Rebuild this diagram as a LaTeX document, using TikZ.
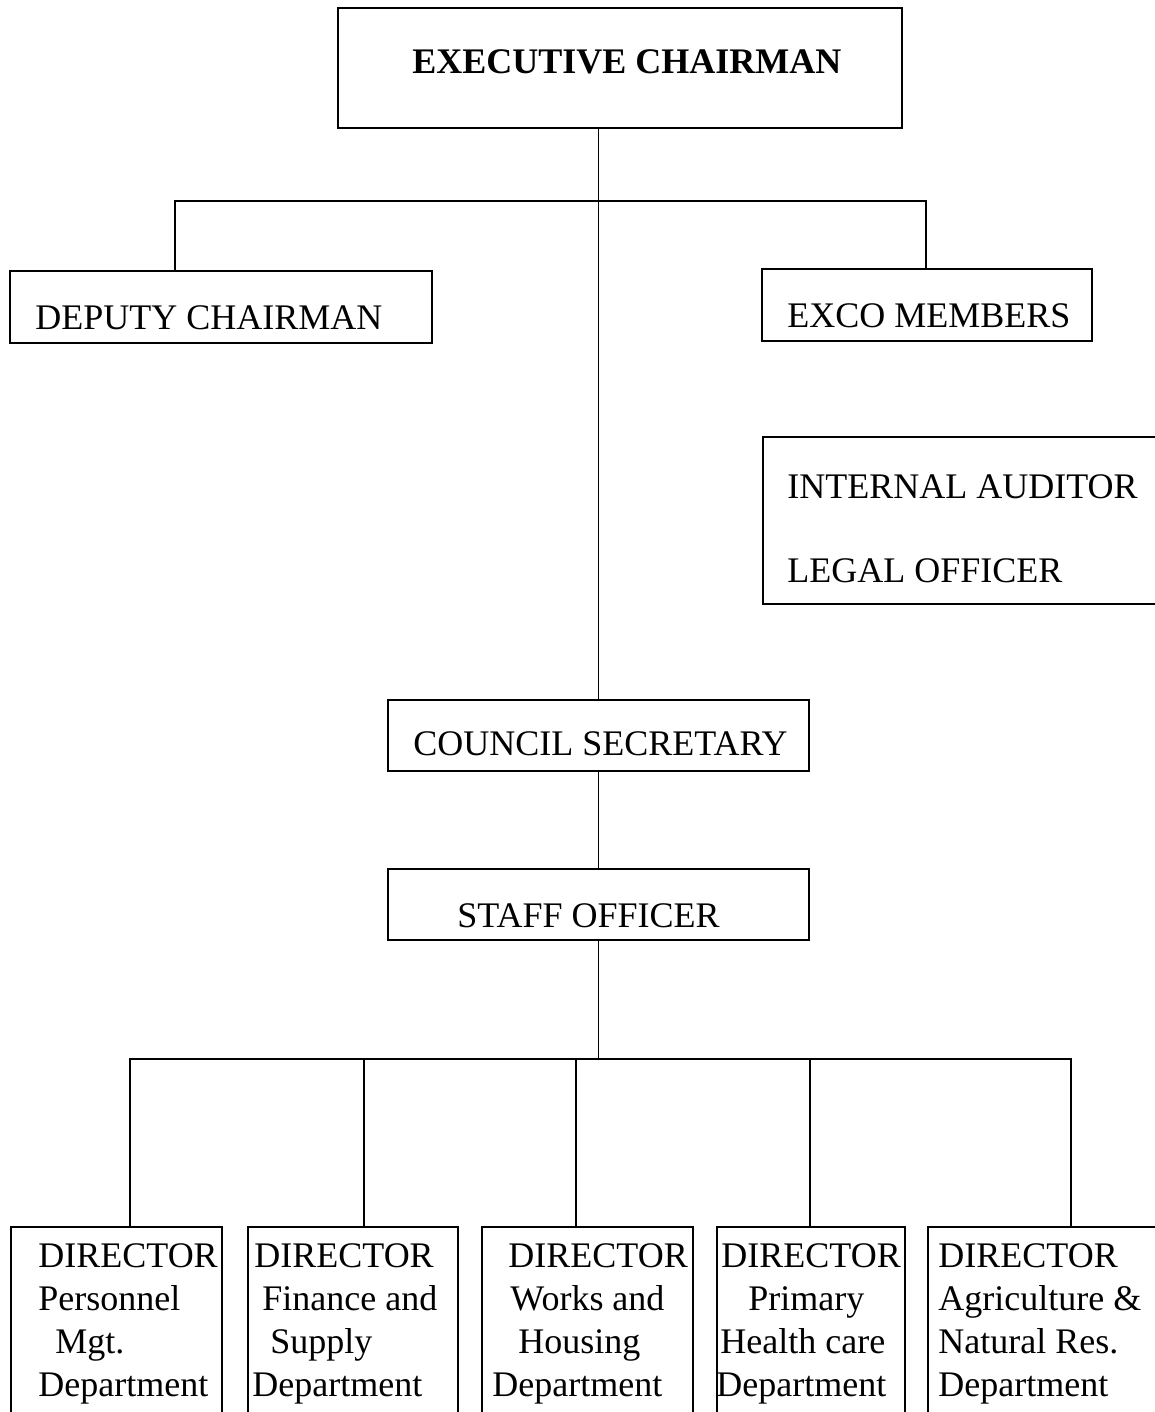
\documentclass[tikz,border=0pt]{standalone}
\usepackage{fontspec}
\setmainfont{Liberation Serif}
\usetikzlibrary{fit}
\begin{document}
\begin{tikzpicture}[x=0.5pt,y=-0.5pt,
  boxx/.style={draw, line width=0.7pt, inner sep=0pt},
  txt/.style={anchor=base west, inner sep=0pt, font=\fontsize{18pt}{21.5pt}\selectfont},
  conn/.style={line width=0.7pt}]
\useasboundingbox (0,0) rectangle (1155,1412);
\clip (0,0) rectangle (1155,1412);
% boxes
\node[boxx, fit={(338,8) (902,128)}] (exec) {};
\node[boxx, fit={(10,271) (432,343)}] (deputy) {};
\node[boxx, fit={(762,269) (1092,341)}] (exco) {};
\node[boxx, fit={(763,437) (1175,604)}] (audit) {};
\node[boxx, fit={(388,700) (809,771)}] (council) {};
\node[boxx, fit={(388,869) (809,940)}] (staff) {};
\node[boxx, fit={(11,1227) (222,1440)}] (d1) {};
\node[boxx, fit={(248,1227) (458,1440)}] (d2) {};
\node[boxx, fit={(482,1227) (693,1440)}] (d3) {};
\node[boxx, fit={(717,1227) (905,1440)}] (d4) {};
\node[boxx, fit={(928,1227) (1175,1440)}] (d5) {};
% texts
\node[txt] (texec) at (412,74) {\bfseries EXECUTIVE CHAIRMAN};
\node[txt] (tdep) at (35,329) {DEPUTY CHAIRMAN};
\node[txt] (texco) at (787,327) {EXCO MEMBERS};
\node[txt] (taud) at (787,498) {INTERNAL AUDITOR};
\node[txt] (tleg) at (787,582) {LEGAL OFFICER};
\node[txt] (tcou) at (413,755) {COUNCIL SECRETARY};
\node[txt] (tsta) at (457,927) {STAFF OFFICER};
% director texts
\node[txt] (a1) at (38,1267) {DIRECTOR};
\node[txt] (a2) at (38,1310) {Personnel};
\node[txt] (a3) at (55,1353) {Mgt.};
\node[txt] (a4) at (38,1396) {Department};
\node[txt] (b1) at (254,1267) {DIRECTOR};
\node[txt] (b2) at (262,1310) {Finance and};
\node[txt] (b3) at (270,1353) {Supply};
\node[txt] (b4) at (252,1396) {Department};
\node[txt] (c1) at (508,1267) {DIRECTOR};
\node[txt] (c2) at (510,1310) {Works and};
\node[txt] (c3) at (518,1353) {Housing};
\node[txt] (c4) at (492,1396) {Department};
\node[txt] (e1) at (721,1267) {DIRECTOR};
\node[txt] (e2) at (748,1310) {Primary};
\node[txt] (e3) at (720,1353) {Health care};
\node[txt] (e4) at (716,1396) {Department};
\node[txt] (f1) at (938,1267) {DIRECTOR};
\node[txt] (f2) at (938,1310) {Agriculture \&};
\node[txt] (f3) at (938,1353) {Natural Res.};
\node[txt] (f4) at (938,1396) {Department};
% branch coordinates
\coordinate (tl) at (175,201);
\coordinate (tr) at (926,201);
\coordinate (bl) at (130,1059);
\coordinate (bb) at (364,1059);
\coordinate (bc) at (576,1059);
\coordinate (bd) at (810,1059);
\coordinate (br) at (1071,1059);
% connectors
\draw[conn] (council.north |- exec.south) -- (council.north);
\draw[conn] (council.south) -- (staff.north);
\draw[conn] (deputy.north -| tl) -- (tl) -- (tr) -- (exco.north -| tr);
\draw[conn] (staff.south) -- (staff.south |- bl);
\draw[conn] (d1.north -| bl) -- (bl) -- (br) -- (d5.north -| br);
\draw[conn] (bb) -- (d2.north -| bb);
\draw[conn] (bc) -- (d3.north -| bc);
\draw[conn] (bd) -- (d4.north -| bd);
\end{tikzpicture}
\end{document}
